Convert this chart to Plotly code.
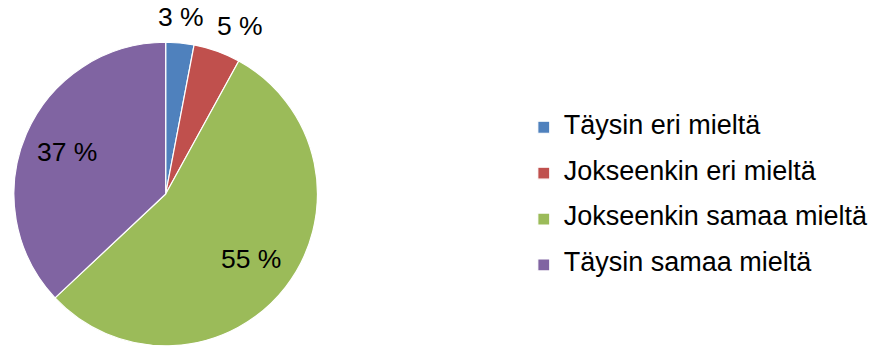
import math
import plotly.graph_objects as go

labels = ["Täysin eri mieltä", "Jokseenkin eri mieltä", "Jokseenkin samaa mieltä", "Täysin samaa mieltä"]
values = [3, 5, 55, 37]
colors = ["#4F81BD", "#C0504D", "#9BBB59", "#8064A2"]
label_inside = [False, False, True, True]

W, H = 874, 347
ml, mr, mt, mb = 0, 0, 41, 0
pw, ph = W - ml - mr, H - mt - mb
FONT = "Liberation Sans, Arial, sans-serif"

dom_x = [14 / pw, 320 / pw]
dom_y = [0, 1]

fig = go.Figure(go.Pie(
    labels=[f"<span style='font-size:27px'>{l}</span><br> " for l in labels],
    values=values,
    textinfo="none",
    sort=False,
    direction="clockwise",
    rotation=0,
    marker=dict(colors=colors, line=dict(color="white", width=1.2)),
    domain=dict(x=dom_x, y=dom_y),
    hoverinfo="percent",
))

# pie geometry in pixels (from the domain)
cx = ml + (dom_x[0] + dom_x[1]) / 2 * pw
cy = mt + (1 - (dom_y[0] + dom_y[1]) / 2) * ph
r = min((dom_x[1] - dom_x[0]) * pw, (dom_y[1] - dom_y[0]) * ph) / 2

total = sum(values)
cum = 0
for v, inside in zip(values, label_inside):
    theta = 2 * math.pi * (cum + v / 2) / total
    cum += v
    s, c = math.sin(theta), math.cos(theta)
    if inside:
        px = cx + 0.71 * r * s
        py = cy - 0.69 * r * c
        xa, ya = "center", "middle"
    else:
        px = cx + (r + 8) * s
        py = cy - (r + 8) * c
        xa = "left" if s > 0.3 else ("right" if s < -0.3 else "center")
        ya = "bottom" if c > 0.3 else ("top" if c < -0.3 else "middle")
        if xa == "left":
            px -= 5
    fig.add_annotation(
        x=(px - ml) / pw, y=(H - mb - py) / ph, xref="paper", yref="paper",
        text=f"{v} %", showarrow=False, xanchor=xa, yanchor=ya,
        font=dict(family=FONT, size=26.5, color="black"),
    )

fig.update_layout(
    width=W, height=H,
    margin=dict(l=ml, r=mr, t=mt, b=mb),
    paper_bgcolor="white",
    plot_bgcolor="white",
    font=dict(family=FONT, color="black"),
    legend=dict(
        x=528 / pw, xanchor="left",
        y=(H - mb - 207) / ph, yanchor="middle",
        font=dict(size=16.5, color="black", family=FONT),
        valign="top",
        bgcolor="rgba(0,0,0,0)",
    ),
)

fig.write_html("out.html", config={"displayModeBar": False},
               post_script="document.body.style.margin='0';")
